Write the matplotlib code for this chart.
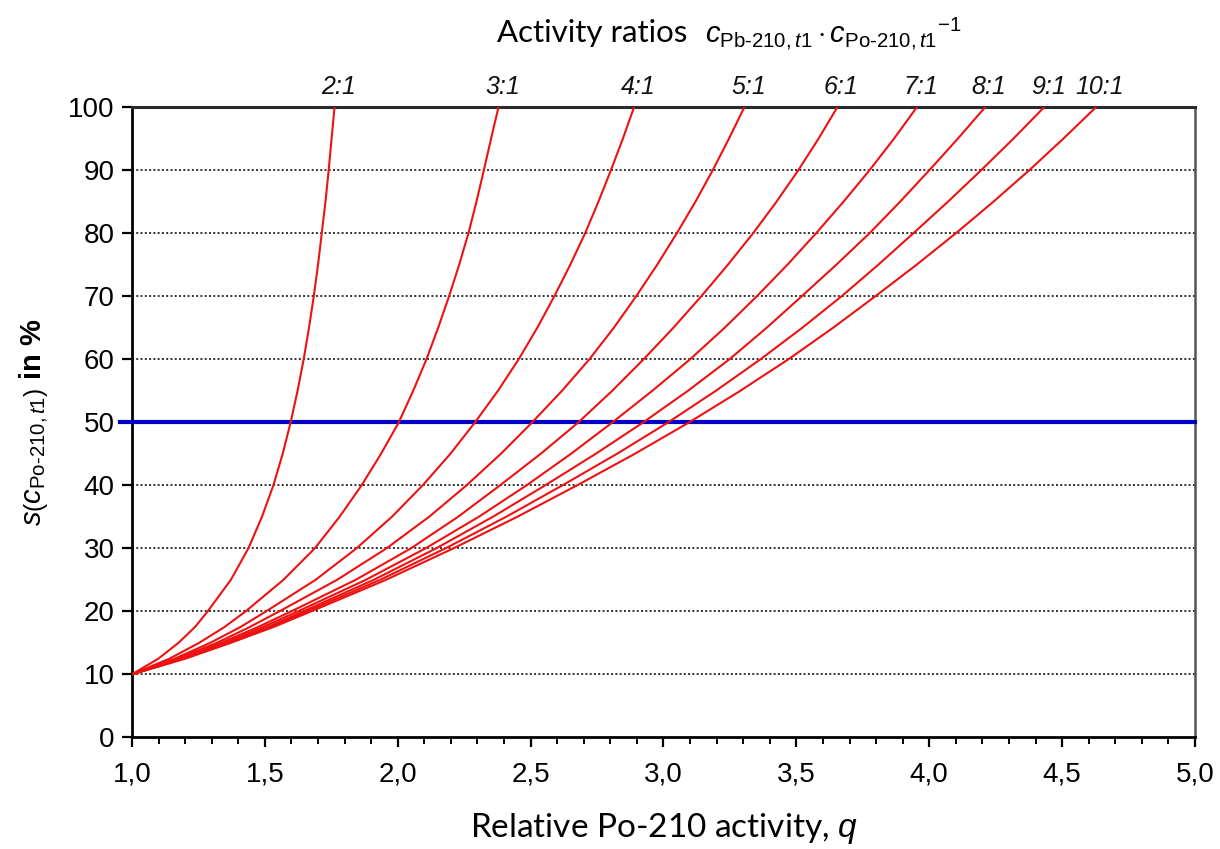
import numpy as np
import matplotlib
matplotlib.use("Agg")
import matplotlib.pyplot as plt
from matplotlib import font_manager as fm
from matplotlib.ticker import MultipleLocator, FuncFormatter

# s(c_Po-210,t1) levels in % at which the curves were read
s_levels = [10, 12.5, 15, 17.5, 20, 25, 30, 35, 40, 45, 50,
            55, 60, 65, 70, 75, 80, 85, 90, 95, 100]

# relative Po-210 activity q at the levels above
q_2 = [1.0, 1.10, 1.175, 1.237, 1.285, 1.372, 1.438, 1.489, 1.532, 1.567, 1.597,
       1.623, 1.646, 1.666, 1.684, 1.700, 1.714, 1.728, 1.740, 1.751, 1.762]
q_3 = [1.0, 1.142, 1.253, 1.348, 1.428, 1.570, 1.688, 1.781, 1.864, 1.937, 2.004,
       2.058, 2.108, 2.152, 2.193, 2.231, 2.266, 2.296, 2.324, 2.351, 2.379]
q_4 = [1.0, 1.162, 1.295, 1.408, 1.505, 1.691, 1.845, 1.978, 2.094, 2.198, 2.291,
       2.377, 2.455, 2.525, 2.589, 2.649, 2.705, 2.755, 2.802, 2.847, 2.889]
q_5 = [1.0, 1.172, 1.320, 1.443, 1.555, 1.772, 1.958, 2.118, 2.259, 2.388, 2.506,
       2.618, 2.721, 2.813, 2.897, 2.976, 3.050, 3.120, 3.185, 3.246, 3.304]
q_6 = [1.0, 1.182, 1.336, 1.474, 1.600, 1.842, 2.050, 2.227, 2.385, 2.538, 2.680,
       2.807, 2.925, 3.037, 3.142, 3.242, 3.337, 3.425, 3.507, 3.583, 3.654]
q_7 = [1.0, 1.190, 1.351, 1.493, 1.625, 1.880, 2.105, 2.305, 2.485, 2.652, 2.808,
       2.958, 3.100, 3.230, 3.351, 3.466, 3.574, 3.677, 3.775, 3.867, 3.953]
q_8 = [1.0, 1.195, 1.361, 1.511, 1.645, 1.910, 2.145, 2.358, 2.555, 2.745, 2.924,
       3.092, 3.248, 3.388, 3.520, 3.650, 3.775, 3.890, 4.000, 4.107, 4.210]
q_9 = [1.0, 1.199, 1.367, 1.523, 1.660, 1.934, 2.180, 2.408, 2.620, 2.825, 3.018,
       3.197, 3.365, 3.522, 3.670, 3.808, 3.940, 4.070, 4.195, 4.316, 4.432]
q_10 = [1.0, 1.201, 1.372, 1.532, 1.675, 1.956, 2.210, 2.450, 2.675, 2.892, 3.097,
        3.289, 3.470, 3.638, 3.797, 3.952, 4.100, 4.241, 4.376, 4.504, 4.627]

ratio_labels = ["2:1", "3:1", "4:1", "5:1", "6:1", "7:1", "8:1", "9:1", "10:1"]
curves = [q_2, q_3, q_4, q_5, q_6, q_7, q_8, q_9, q_10]

limit_line = 50
grid_levels = [10, 20, 30, 40, 60, 70, 80, 90]


def has_font(name):
    try:
        fm.findfont(fm.FontProperties(family=name), fallback_to_default=False)
        return True
    except Exception:
        return False


narrow = "Liberation Sans Narrow" if has_font("Liberation Sans Narrow") else "Liberation Sans"
calib = "Lato"

plt.rcParams["font.family"] = ["Liberation Sans", "DejaVu Sans"]
plt.rcParams["mathtext.fontset"] = "custom"
plt.rcParams["mathtext.rm"] = "Liberation Sans"
plt.rcParams["mathtext.it"] = "Liberation Sans:italic"
plt.rcParams["mathtext.bf"] = "Liberation Sans:bold"

fig = plt.figure(figsize=(12.2, 8.49), dpi=100)
ax = fig.add_axes([0.1082, 0.1316, 0.8713, 0.742])

ax.set_xlim(1.0, 5.0)
ax.set_ylim(0, 100)

for g in grid_levels:
    ax.axhline(g, color="#303030", lw=1.4, ls=(0, (1, 1.2)), zorder=1)

ax.axhline(limit_line, xmin=-0.011, xmax=1, color="#0000c4", lw=3.0,
           clip_on=False, zorder=3)

for q in curves:
    ax.plot(q, s_levels, color="#ee1111", lw=1.5, zorder=4)

for q, lab in zip(curves, ratio_labels):
    ax.annotate(lab, xy=(q[-1], 100), xytext=(3, 6), textcoords="offset points",
                ha="center", va="bottom", fontsize=18, style="italic",
                family=narrow, color="#111111", annotation_clip=False)

# axes frame
for side in ["left", "bottom"]:
    ax.spines[side].set_linewidth(2.0)
    ax.spines[side].set_color("black")
ax.spines["top"].set_linewidth(2.2)
ax.spines["top"].set_color("#2a2a2a")
ax.spines["right"].set_linewidth(1.8)
ax.spines["right"].set_color("#555555")

ax.xaxis.set_major_locator(MultipleLocator(0.5))
ax.xaxis.set_minor_locator(MultipleLocator(0.1))
ax.yaxis.set_major_locator(MultipleLocator(10))
ax.xaxis.set_major_formatter(FuncFormatter(lambda v, p: f"{v:.1f}".replace(".", ",")))
ax.tick_params(axis="both", which="major", direction="out", length=7.5, width=1.6,
               color="black", pad=5)
ax.tick_params(axis="x", which="minor", direction="out", length=5, width=1.4, color="black")
ax.tick_params(axis="y", labelsize=20)
ax.tick_params(axis="x", labelsize=20, pad=10)
for t in ax.get_xticklabels():
    t.set_family(narrow)

ax.set_ylabel(r"$s\left(c_{\text{Po-210},t1}\right)$ $\mathbf{in\ \%}$", fontsize=21, labelpad=12)
ax.set_xlabel(r"Relative Po-210 activity, $q$", fontsize=24, family=calib, labelpad=17)
ax.xaxis.label.set_family(calib)

fig.text(0.407, 0.950, "Activity ratios", ha="left", va="baseline",
         fontsize=22.5, family=calib)
fig.text(0.578, 0.950,
         r"$c_{\text{Pb-210},t1} \cdot c_{\text{Po-210},t1}{}^{-1}$",
         ha="left", va="baseline", fontsize=21)

fig.savefig("out.png", dpi=100)
